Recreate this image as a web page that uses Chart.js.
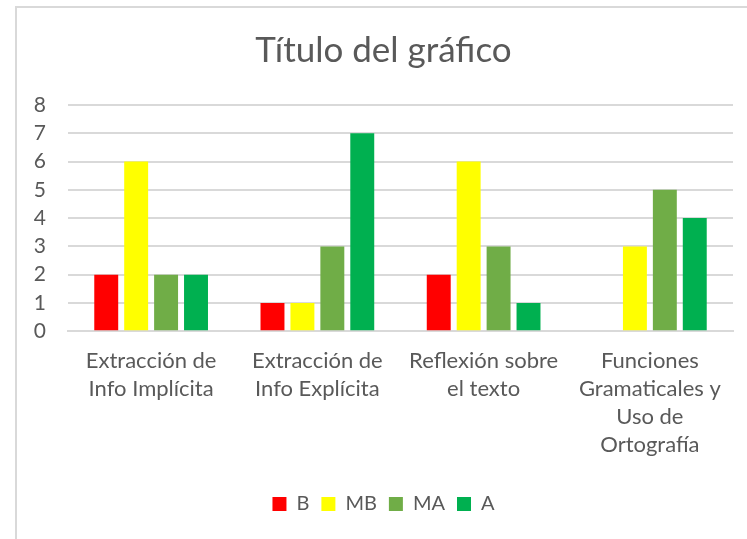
<!DOCTYPE html>
<html lang="es">
<head>
  <meta charset="UTF-8" />
  <title>Título del gráfico</title>
  <script src="https://cdn.jsdelivr.net/npm/chart.js"></script>
  <style>
    html, body { margin: 0; padding: 0; background: #fff; overflow: hidden; }
    #frame {
      position: absolute; left: 15px; top: 6px; width: 740px; height: 540px;
      border: 2px solid #d9d9d9; box-sizing: border-box;
    }
    #wrap { position: absolute; left: 17px; top: 8px; width: 730px; height: 531px; }
  </style>
</head>
<body>
<div id="frame"></div>
<div id="wrap"><canvas id="chart"></canvas></div>

<script>
const categorias = [
  ['Extracción de', 'Info Implícita'],
  ['Extracción de', 'Info Explícita'],
  ['Reflexión sobre', 'el texto'],
  ['Funciones', 'Gramaticales y', 'Uso de', 'Ortografía']
];
const serieB  = [2, 1, 2, 0];
const serieMB = [6, 1, 6, 3];
const serieMA = [2, 3, 3, 5];
const serieA  = [2, 7, 1, 4];

const texto = '#595959';
const rejilla = '#d9d9d9';
const fuente = 'Lato, "Open Sans", sans-serif';

const ctx = document.getElementById('chart').getContext('2d');
new Chart(ctx, {
  type: 'bar',
  data: {
    labels: categorias,
    datasets: [
      { label: 'B',  data: serieB,  backgroundColor: '#ff0000' },
      { label: 'MB', data: serieMB, backgroundColor: '#ffff00' },
      { label: 'MA', data: serieMA, backgroundColor: '#70ad47' },
      { label: 'A',  data: serieA,  backgroundColor: '#00b050' }
    ]
  },
  options: {
    responsive: true,
    maintainAspectRatio: false,
    animation: false,
    categoryPercentage: 0.72,
    barPercentage: 0.8,
    layout: { padding: { left: 17, right: 14, top: 15, bottom: 15 } },
    plugins: {
      title: {
        display: true,
        text: 'Título del gráfico',
        color: texto,
        font: { family: fuente, size: 35, weight: 'normal' },
        padding: { top: 7, bottom: 33 }
      },
      legend: {
        position: 'bottom',
        labels: {
          color: texto,
          font: { family: fuente, size: 20 },
          boxWidth: 14,
          boxHeight: 14,
          padding: 12
        }
      },
      tooltip: { enabled: false }
    },
    scales: {
      x: {
        afterFit: s => { s.height += 15; },
        grid: { display: false },
        border: { display: true, color: rejilla, width: 2 },
        ticks: {
          color: texto,
          font: { family: fuente, size: 22, lineHeight: 1.27 },
          maxRotation: 0,
          autoSkip: false,
          padding: 8
        }
      },
      y: {
        min: 0,
        max: 8,
        afterFit: s => { s.width = 34; },
        grid: { color: rejilla, lineWidth: 2, drawTicks: false },
        border: { display: false },
        ticks: {
          stepSize: 1,
          color: texto,
          font: { family: fuente, size: 21 },
          padding: 22
        }
      }
    }
  }
});
</script>
</body>
</html>
